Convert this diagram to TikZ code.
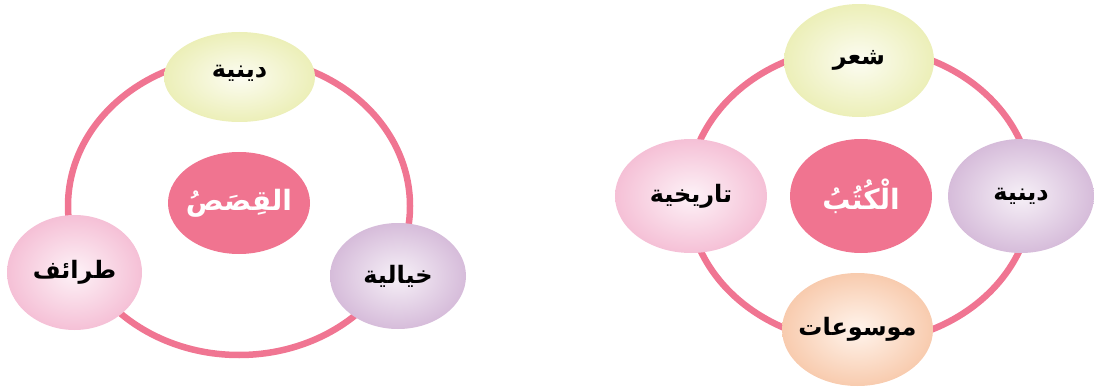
\documentclass[tikz,border=0pt]{standalone}
\usepackage{fontspec}
\usetikzlibrary{shapes.geometric}
\TeXXeTstate=1
\newfontfamily\arabicfont[Script=Arabic]{DejaVu Sans}
\definecolor{ringpink}{RGB}{240,117,146}
\definecolor{corepink}{RGB}{240,116,144}
\definecolor{yelout}{RGB}{236,239,184}
\definecolor{yelin}{RGB}{252,252,242}
\definecolor{pinkout}{RGB}{245,192,214}
\definecolor{pinkin}{RGB}{253,242,247}
\definecolor{purout}{RGB}{214,188,218}
\definecolor{purin}{RGB}{246,240,247}
\definecolor{orout}{RGB}{248,203,174}
\definecolor{orin}{RGB}{255,244,236}
\tikzset{
  ring/.style={draw=ringpink, line width=6.5pt},
  bubble/.style={ellipse, inner sep=-30pt, shading=radial,
    font=\arabicfont\bfseries\fontsize{24}{28}\selectfont, text=black},
  yel/.style={bubble, inner color=yelin, outer color=yelout},
  pnk/.style={bubble, inner color=pinkin, outer color=pinkout},
  pur/.style={bubble, inner color=purin, outer color=purout},
  org/.style={bubble, inner color=orin, outer color=orout},
  core/.style={ellipse, inner sep=-30pt, fill=corepink, text=white,
    font=\arabicfont\bfseries\fontsize{28}{34}\selectfont},
  sz/.style 2 args={minimum width=#1pt, minimum height=#2pt}
}
\newcommand{\ar}[2][3pt]{\raisebox{#1}{\beginR #2\endR}}
\begin{document}
\begin{tikzpicture}[x=1pt,y=-1pt]
\useasboundingbox (0,0) rectangle (1094,390);
% left diagram
\coordinate (Lc) at (239,206);
\draw[ring] (Lc) ellipse [x radius=171pt, y radius=149pt];
\node[yel, sz={151}{90}] (lt) at (239.5,77) {\ar[12pt]{دينية}};
\node[pnk, sz={135}{115}] (ll) at (74.5,272.5) {\ar[5pt]{طرائف}};
\node[pur, sz={136}{106}] (lr) at (398,276) {\ar[3pt]{خيالية}};
\node[core, sz={142}{102}] (lc) at (239,203) {\ar[2pt]{القِصَصُ}};
% right diagram
\coordinate (Rc) at (860,195);
\draw[ring] (Rc) ellipse [x radius=172pt, y radius=148pt];
\node[yel, sz={150}{113}] (rt) at (859,60.5) {\ar[4pt]{شعر}};
\node[pnk, sz={152}{114}] (rl) at (691,196) {\ar[3pt]{تاريخية}};
\node[pur, sz={146}{114}] (rr) at (1021,196) {\ar[2pt]{دينية}};
\node[org, sz={151}{113}] (rb) at (857.5,329.5) {\ar[3pt]{موسوعات}};
\node[core, sz={142}{114}] (rc) at (861,196) {\ar[0pt]{الْكُتُبُ}};
\end{tikzpicture}
\end{document}
